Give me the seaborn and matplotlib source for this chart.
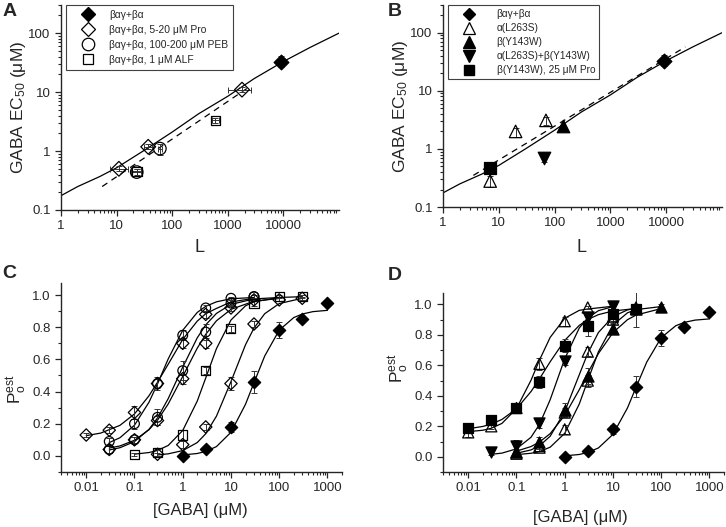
import matplotlib
matplotlib.use("Agg")
import matplotlib.pyplot as plt
import seaborn as sns
from matplotlib.lines import Line2D
from matplotlib.ticker import FixedLocator, LogLocator, NullFormatter, MultipleLocator, FixedFormatter

# ---------------- panel A / B : EC50 vs L ----------------
fit_L = [1, 2, 5, 10, 30, 100, 300, 1000, 3000, 10000, 30000, 100000]
fit_ec = [0.175, 0.25, 0.37, 0.52, 1.0, 2.1, 4.3, 8.5, 17, 33, 57, 100]
dashA_L = [5.5, 2200]
dashA_ec = [0.25, 11.5]
dashB_L = [3.5, 22000]
dashB_ec = [0.35, 57]

# wild type (filled diamond)
wt_L = [9000]
wt_ec = [33]
wt_ec_lo = [27]
wt_ec_hi = [41]
# propofol (open diamonds)
pro_L = [11, 37, 1800]
pro_ec = [0.50, 1.18, 11]
pro_L_lo = [7.5, 31, 1000]
pro_L_hi = [16, 44, 2600]
pro_ec_lo = [0.45, 1.08, 10]
pro_ec_hi = [0.56, 1.3, 12]
# pentobarbital (open circles)
peb_L = [23, 60]
peb_ec = [0.44, 1.1]
peb_L_lo = [18, 55]
peb_L_hi = [29, 66]
peb_ec_lo = [0.38, 0.85]
peb_ec_hi = [0.50, 1.3]
# alfaxalone (open squares)
alf_L = [23, 600]
alf_ec = [0.45, 3.3]
alf_L_lo = [19, 520]
alf_L_hi = [28, 690]
alf_ec_lo = [0.40, 3.0]
alf_ec_hi = [0.50, 3.6]

# mutants (panel B)
aL_L = [7, 20, 70]
aL_ec = [0.28, 2.0, 3.1]
aL_ec_lo = [0.22, 1.6, 2.6]
aL_ec_hi = [0.34, 2.3, 3.5]
bY_L = [140]
bY_ec = [2.5]
bY_ec_lo = [2.0]
bY_ec_hi = [2.9]
aLbY_L = [65]
aLbY_ec = [0.7]
aLbY_ec_lo = [0.6]
aLbY_ec_hi = [0.8]
bYpro_L = [7]
bYpro_ec = [0.46]

# ---------------- panel C / D : Po vs [GABA] ----------------
wt_x = [1, 3, 10, 30, 100, 300, 1000]
wt_p = [0.0, 0.04, 0.18, 0.46, 0.78, 0.85, 0.95]
wt_err = [0.01, 0.01, 0.03, 0.07, 0.05, 0.02, 0.01]
wt_cx = [1, 2, 3, 5, 10, 20, 30, 50, 100, 200, 300, 500, 1000]
wt_cy = [0.006, 0.015, 0.028, 0.058, 0.147, 0.321, 0.455, 0.621, 0.782, 0.86, 0.882, 0.897, 0.905]

# C: propofol, pentobarbital, alfaxalone
proH_x = [0.01, 0.03, 0.1, 0.3, 1, 3]
proH_p = [0.13, 0.16, 0.27, 0.45, 0.70, 0.88]
proH_err = [0.01, 0.02, 0.04, 0.03, 0.03, 0.02]
proH_cx = [0.01, 0.02, 0.05, 0.1, 0.2, 0.3, 0.5, 1, 2, 3, 5, 10, 30]
proH_cy = [0.126, 0.142, 0.19, 0.261, 0.374, 0.458, 0.57, 0.724, 0.838, 0.884, 0.917, 0.957, 0.98]

proM_x = [0.03, 0.1, 0.3, 1, 3, 10, 30]
proM_p = [0.04, 0.10, 0.22, 0.48, 0.70, 0.92, 0.97]
proM_err = [0.02, 0.02, 0.03, 0.03, 0.03, 0.02, 0.01]
proM_cx = [0.03, 0.05, 0.1, 0.2, 0.3, 0.5, 1, 2, 3, 5, 10, 30, 100]
proM_cy = [0.049, 0.062, 0.097, 0.163, 0.222, 0.323, 0.494, 0.67, 0.756, 0.84, 0.911, 0.962, 0.979]

proL_x = [0.3, 1, 3, 10, 30, 100, 300]
proL_p = [0.01, 0.07, 0.18, 0.45, 0.82, 0.97, 0.98]
proL_err = [0.01, 0.02, 0.02, 0.04, 0.02, 0.01, 0.01]
proL_cx = [0.3, 0.5, 1, 2, 3, 5, 10, 20, 30, 50, 100, 300]
proL_cy = [0.006, 0.013, 0.033, 0.083, 0.138, 0.247, 0.462, 0.691, 0.795, 0.884, 0.947, 0.98]

pebH_x = [0.03, 0.1, 0.3, 1, 3, 10, 30]
pebH_p = [0.09, 0.20, 0.45, 0.75, 0.92, 0.98, 0.99]
pebH_err = [0.02, 0.03, 0.04, 0.03, 0.02, 0.01, 0.01]
pebH_cx = [0.03, 0.05, 0.1, 0.2, 0.3, 0.5, 1, 2, 3, 5, 10, 30]
pebH_cy = [0.083, 0.113, 0.191, 0.334, 0.448, 0.603, 0.781, 0.892, 0.93, 0.958, 0.977, 0.985]

pebL_x = [0.03, 0.1, 0.3, 1, 3, 10, 30]
pebL_p = [0.04, 0.10, 0.24, 0.53, 0.77, 0.95, 0.99]
pebL_err = [0.02, 0.02, 0.05, 0.06, 0.05, 0.02, 0.01]
pebL_cx = [0.03, 0.05, 0.1, 0.2, 0.3, 0.5, 1, 2, 3, 5, 10, 30, 100]
pebL_cy = [0.037, 0.051, 0.089, 0.165, 0.236, 0.356, 0.552, 0.734, 0.815, 0.886, 0.942, 0.976, 0.985]

alfC_x = [0.1, 0.3, 1, 3, 10, 30, 100, 300]
alfC_p = [0.01, 0.02, 0.13, 0.53, 0.79, 0.95, 0.99, 0.99]
alfC_err = [0.01, 0.02, 0.03, 0.02, 0.02, 0.02, 0.01, 0.01]
alfC_cx = [0.1, 0.2, 0.3, 0.5, 1, 2, 3, 5, 10, 20, 30, 100, 300]
alfC_cy = [0.011, 0.021, 0.034, 0.065, 0.158, 0.341, 0.485, 0.667, 0.845, 0.933, 0.958, 0.985, 0.99]

# D: mutants
triA_x = [0.01, 0.03, 0.1, 0.3, 1, 3]
triA_p = [0.16, 0.20, 0.32, 0.61, 0.89, 0.98]
triA_err = [0.03, 0.02, 0.02, 0.04, 0.03, 0.01]
triA_cx = [0.01, 0.02, 0.03, 0.05, 0.1, 0.2, 0.3, 0.5, 1, 2, 3, 10]
triA_cy = [0.165, 0.174, 0.187, 0.219, 0.316, 0.502, 0.635, 0.784, 0.909, 0.961, 0.97, 0.988]

triB_x = [0.1, 0.3, 1, 3, 10, 30]
triB_p = [0.03, 0.07, 0.29, 0.69, 0.92, 0.98]
triB_err = [0.02, 0.02, 0.03, 0.03, 0.03, 0.01]
triB_cx = [0.1, 0.2, 0.3, 0.5, 1, 2, 3, 5, 10, 20, 30]
triB_cy = [0.023, 0.045, 0.072, 0.135, 0.297, 0.538, 0.679, 0.816, 0.92, 0.964, 0.976]

triC_x = [0.1, 0.3, 1, 3, 10, 30]
triC_p = [0.02, 0.06, 0.18, 0.50, 0.90, 0.97]
triC_err = [0.01, 0.02, 0.03, 0.04, 0.02, 0.01]
triC_cx = [0.1, 0.2, 0.3, 0.5, 1, 2, 3, 5, 10, 20, 30, 100]
triC_cy = [0.014, 0.023, 0.034, 0.063, 0.154, 0.346, 0.5, 0.69, 0.865, 0.945, 0.966, 0.986]

up_x = [0.1, 0.3, 1, 3, 10, 30, 100]
up_p = [0.03, 0.10, 0.31, 0.53, 0.84, 0.97, 0.98]
up_err = [0.02, 0.03, 0.04, 0.05, 0.03, 0.03, 0.02]
up_cx = [0.1, 0.2, 0.3, 0.5, 1, 2, 3, 5, 10, 20, 30, 100]
up_cy = [0.037, 0.067, 0.097, 0.152, 0.272, 0.44, 0.549, 0.678, 0.815, 0.9, 0.93, 0.973]

dn_x = [0.03, 0.1, 0.3, 1, 3, 10]
dn_p = [0.03, 0.07, 0.22, 0.63, 0.92, 0.99]
dn_err = [0.02, 0.04, 0.03, 0.03, 0.03, 0.02]
dn_cx = [0.03, 0.05, 0.1, 0.2, 0.3, 0.5, 1, 2, 3, 5, 10]
dn_cy = [0.016, 0.024, 0.052, 0.128, 0.213, 0.375, 0.643, 0.845, 0.912, 0.959, 0.986]

sqD_x = [0.01, 0.03, 0.1, 0.3, 1, 3, 10, 30]
sqD_p = [0.19, 0.24, 0.32, 0.49, 0.73, 0.86, 0.94, 0.97]
sqD_err = [0.03, 0.03, 0.02, 0.04, 0.04, 0.07, 0.02, 0.12]
sqD_cx = [0.01, 0.02, 0.03, 0.05, 0.1, 0.2, 0.3, 0.5, 1, 2, 3, 5, 10, 30]
sqD_cy = [0.184, 0.199, 0.214, 0.245, 0.315, 0.428, 0.512, 0.624, 0.764, 0.862, 0.901, 0.933, 0.957, 0.973]

legA = ["βαγ+βα", "βαγ+βα, 5-20 μM Pro", "βαγ+βα, 100-200 μM PEB", "βαγ+βα, 1 μM ALF"]
legB = ["βαγ+βα", "α(L263S)", "β(Y143W)", "α(L263S)+β(Y143W)", "β(Y143W), 25 μM Pro"]

sns.set_style("ticks")
plt.rcParams["font.family"] = ["Liberation Sans", "DejaVu Sans"]
plt.rcParams["mathtext.fontset"] = "custom"
plt.rcParams["mathtext.rm"] = "Liberation Sans"
plt.rcParams["mathtext.it"] = "Liberation Sans:italic"
plt.rcParams["axes.linewidth"] = 1.0

W, H = 726, 527
fig = plt.figure(figsize=(W / 100, H / 100), dpi=100)


def box(l, r, t, b):
    return [l / W, 1 - b / H, (r - l) / W, (b - t) / H]


def curve(ax, x, y, ls="-"):
    sns.lineplot(x=x, y=y, ax=ax, color="k", lw=0.9, linestyle=ls,
                 estimator=None, sort=False, legend=False, zorder=1)


def pts(ax, x, y, marker, filled, ms, yerr=None, xerr=None):
    if yerr is not None or xerr is not None:
        ax.errorbar(x, y, yerr=yerr, xerr=xerr, fmt="none", ecolor="0.2",
                    elinewidth=0.7, capsize=2.5, capthick=0.7, zorder=2)
    fc = "k" if filled else "none"
    sns.scatterplot(x=x, y=y, ax=ax, marker=marker, s=ms ** 2, facecolor=fc,
                    edgecolor="k", linewidth=0.9, zorder=3, legend=False)


def asym(v, lo, hi):
    return [[a - b for a, b in zip(v, lo)], [b - a for a, b in zip(v, hi)]]


def style_ec50(ax):
    ax.set_xscale("log")
    ax.set_yscale("log")
    ax.set_xlim(1, 1e5)
    ax.set_ylim(0.1, 300)
    ax.xaxis.set_major_locator(FixedLocator([1, 10, 100, 1000, 10000]))
    ax.xaxis.set_major_formatter(FixedFormatter(["1", "10", "100", "1000", "10000"]))
    ax.xaxis.set_minor_locator(LogLocator(base=10, subs=range(2, 10), numticks=20))
    ax.xaxis.set_minor_formatter(NullFormatter())
    ax.yaxis.set_major_locator(FixedLocator([0.1, 1, 10, 100]))
    ax.yaxis.set_major_formatter(FixedFormatter(["0.1", "1", "10", "100"]))
    ax.yaxis.set_minor_locator(LogLocator(base=10, subs=range(2, 10), numticks=20))
    ax.yaxis.set_minor_formatter(NullFormatter())
    ax.set_xlabel("L", fontsize=13)
    ax.set_ylabel(r"GABA EC$_{\rm 50}$ (μM)", fontsize=12.5)


def style_po(ax):
    ax.set_xscale("log")
    ax.set_xlim(0.003, 2000)
    ax.set_ylim(-0.1, 1.075)
    ax.xaxis.set_major_locator(FixedLocator([0.01, 0.1, 1, 10, 100, 1000]))
    ax.xaxis.set_major_formatter(FixedFormatter(["0.01", "0.1", "1", "10", "100", "1000"]))
    ax.xaxis.set_minor_locator(LogLocator(base=10, subs=range(2, 10), numticks=20))
    ax.xaxis.set_minor_formatter(NullFormatter())
    ax.yaxis.set_major_locator(FixedLocator([0, 0.2, 0.4, 0.6, 0.8, 1.0]))
    ax.yaxis.set_major_formatter(FixedFormatter(["0.0", "0.2", "0.4", "0.6", "0.8", "1.0"]))
    ax.yaxis.set_minor_locator(MultipleLocator(0.1))
    ax.set_xlabel("[GABA] (μM)", fontsize=12)
    ax.set_ylabel(r"$\rm P_{o}^{est}$", fontsize=12.5)


def finish(ax):
    sns.despine(ax=ax)
    ax.tick_params(which="major", direction="out", length=4.5, width=0.9, labelsize=9.5, pad=3)
    ax.tick_params(which="minor", direction="out", length=2.5, width=0.8)


# ---------- A ----------
axA = fig.add_axes(box(61, 339, 5, 210))
curve(axA, fit_L, fit_ec)
curve(axA, dashA_L, dashA_ec, ls=(0, (5, 4)))
pts(axA, wt_L, wt_ec, "D", True, 7.5, yerr=asym(wt_ec, wt_ec_lo, wt_ec_hi))
pts(axA, pro_L, pro_ec, "D", False, 7.5, yerr=asym(pro_ec, pro_ec_lo, pro_ec_hi),
    xerr=asym(pro_L, pro_L_lo, pro_L_hi))
pts(axA, peb_L, peb_ec, "o", False, 9, yerr=asym(peb_ec, peb_ec_lo, peb_ec_hi),
    xerr=asym(peb_L, peb_L_lo, peb_L_hi))
pts(axA, alf_L, alf_ec, "s", False, 7, yerr=asym(alf_ec, alf_ec_lo, alf_ec_hi),
    xerr=asym(alf_L, alf_L_lo, alf_L_hi))
style_ec50(axA)
finish(axA)
hA = [Line2D([], [], ls="none", marker="D", ms=7, mfc="k", mec="k"),
      Line2D([], [], ls="none", marker="D", ms=7, mfc="none", mec="k", mew=0.9),
      Line2D([], [], ls="none", marker="o", ms=9, mfc="none", mec="k", mew=0.9),
      Line2D([], [], ls="none", marker="s", ms=7, mfc="none", mec="k", mew=0.9)]
lg = axA.legend(hA, legA, loc="upper left", bbox_to_anchor=(0.017, 1.0), borderaxespad=0,
                fontsize=7.4, frameon=True, fancybox=False, edgecolor="0.25", framealpha=1,
                handlelength=3.5, handletextpad=0.3, borderpad=0.45, labelspacing=0.5)
lg.get_frame().set_linewidth(0.8)

# ---------- B ----------
axB = fig.add_axes(box(443, 722, 5, 207))
curve(axB, fit_L, fit_ec)
curve(axB, dashB_L, dashB_ec, ls=(0, (5, 4)))
pts(axB, wt_L, wt_ec, "D", True, 7.5, yerr=asym(wt_ec, wt_ec_lo, wt_ec_hi))
pts(axB, aL_L, aL_ec, "^", False, 9, yerr=asym(aL_ec, aL_ec_lo, aL_ec_hi))
pts(axB, bY_L, bY_ec, "^", True, 9, yerr=asym(bY_ec, bY_ec_lo, bY_ec_hi))
pts(axB, aLbY_L, aLbY_ec, "v", True, 9, yerr=asym(aLbY_ec, aLbY_ec_lo, aLbY_ec_hi))
pts(axB, bYpro_L, bYpro_ec, "s", True, 8)
style_ec50(axB)
finish(axB)
hB = [Line2D([], [], ls="none", marker="D", ms=6.5, mfc="k", mec="k"),
      Line2D([], [], ls="none", marker="^", ms=8, mfc="none", mec="k", mew=0.9),
      Line2D([], [], ls="none", marker="^", ms=8, mfc="k", mec="k"),
      Line2D([], [], ls="none", marker="v", ms=8, mfc="k", mec="k"),
      Line2D([], [], ls="none", marker="s", ms=7.5, mfc="k", mec="k")]
lg = axB.legend(hB, legB, loc="upper left", bbox_to_anchor=(0.018, 1.0), borderaxespad=0,
                fontsize=7.3, frameon=True, fancybox=False, edgecolor="0.25", framealpha=1,
                handlelength=3.4, handletextpad=1.0, borderpad=0.4, labelspacing=0.4)
lg.get_frame().set_linewidth(0.8)

# ---------- C ----------
axC = fig.add_axes(box(61, 342, 283, 472))
for cx, cy in [(proH_cx, proH_cy), (pebH_cx, pebH_cy), (pebL_cx, pebL_cy), (proM_cx, proM_cy),
               (alfC_cx, alfC_cy), (proL_cx, proL_cy), (wt_cx, wt_cy)]:
    curve(axC, cx, cy)
pts(axC, proH_x, proH_p, "D", False, 6.3, yerr=proH_err)
pts(axC, proM_x, proM_p, "D", False, 6.3, yerr=proM_err)
pts(axC, proL_x, proL_p, "D", False, 6.3, yerr=proL_err)
pts(axC, pebH_x, pebH_p, "o", False, 7, yerr=pebH_err)
pts(axC, pebL_x, pebL_p, "o", False, 7, yerr=pebL_err)
pts(axC, alfC_x, alfC_p, "s", False, 6.5, yerr=alfC_err)
pts(axC, wt_x, wt_p, "D", True, 6.3, yerr=wt_err)
style_po(axC)
finish(axC)

# ---------- D ----------
axD = fig.add_axes(box(443, 724, 293, 472))
for cx, cy in [(triA_cx, triA_cy), (sqD_cx, sqD_cy), (dn_cx, dn_cy), (up_cx, up_cy),
               (triB_cx, triB_cy), (triC_cx, triC_cy), (wt_cx, wt_cy)]:
    curve(axD, cx, cy)
pts(axD, triA_x, triA_p, "^", False, 8, yerr=triA_err)
pts(axD, triB_x, triB_p, "^", False, 8, yerr=triB_err)
pts(axD, triC_x, triC_p, "^", False, 8, yerr=triC_err)
pts(axD, up_x, up_p, "^", True, 8, yerr=up_err)
pts(axD, dn_x, dn_p, "v", True, 8, yerr=dn_err)
pts(axD, sqD_x, sqD_p, "s", True, 7, yerr=sqD_err)
pts(axD, wt_x, wt_p, "D", True, 6.3, yerr=wt_err)
style_po(axD)
finish(axD)

# label placement
axA.xaxis.set_label_coords(0.5, -0.14)
axA.yaxis.set_label_coords(-0.12, 0.5)
axB.xaxis.set_label_coords(0.495, -0.16)
axB.yaxis.set_label_coords(-0.12, 0.5)
axC.xaxis.set_label_coords(0.495, -0.165)
axC.yaxis.set_label_coords(-0.115, 0.44)
axD.xaxis.set_label_coords(0.49, -0.21)
axD.yaxis.set_label_coords(-0.115, 0.58)

for lab, x, y in [("A", 3, 11), ("B", 388, 11), ("C", 2, 273), ("D", 388, 276)]:
    fig.text(x / W, 1 - y / H, lab, fontsize=14, fontweight="bold", ha="left", va="center")

fig.savefig("out.png", dpi=100)
